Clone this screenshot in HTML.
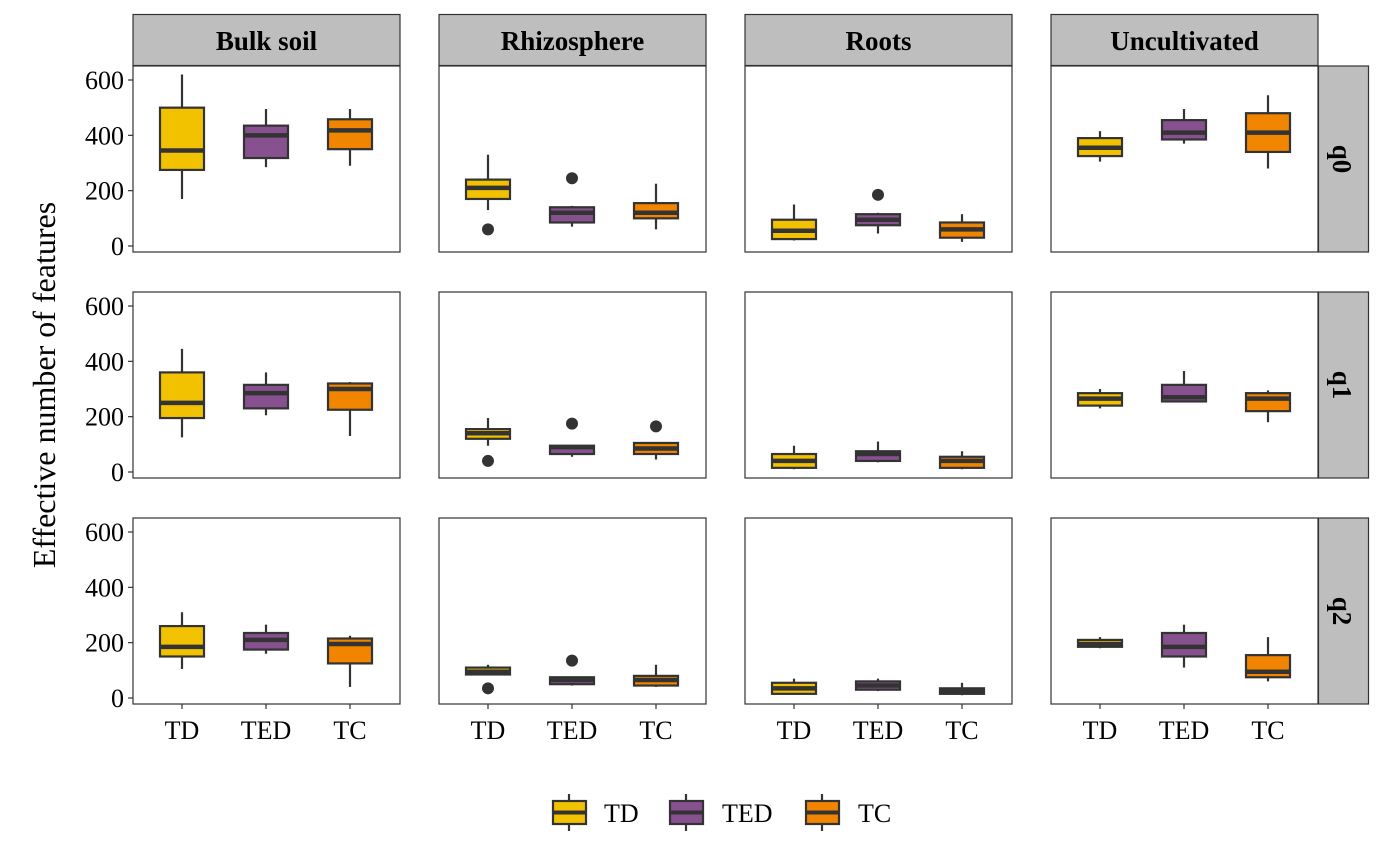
<!DOCTYPE html>
<html><head><meta charset="utf-8"><style>
html,body{margin:0;padding:0;background:#fff;}
svg{display:block;font-family:"Liberation Serif",serif;}
</style></head><body>
<svg id="s" width="1400" height="865" xmlns="http://www.w3.org/2000/svg"></svg>
<script>
const s=document.getElementById('s');let h='';
const cols=['Bulk soil','Rhizosphere','Roots','Uncultivated'];
const rows=['q0','q1','q2'];
const fills=['#F2C200','#87508F','#F28500'];
const data=[
[[[170,275,345,500,620],[285,318,400,435,495],[290,350,418,458,495]],
 [[130,170,210,240,330,60],[70,85,120,140,145,245],[60,100,120,155,225]],
 [[20,25,55,95,150],[45,75,95,115,120,185],[15,30,60,85,115]],
 [[305,325,355,390,415],[370,385,410,455,495],[280,340,410,480,545]]],
[[[125,195,250,360,445],[205,230,285,315,360],[130,225,300,320,325]],
 [[95,120,140,155,195,40],[55,65,90,95,95,175],[45,65,85,105,105,165]],
 [[10,15,40,65,95],[35,40,65,75,110],[10,15,40,55,75]],
 [[230,240,265,285,300],[255,255,270,315,365],[180,220,265,285,295]]],
[[[105,150,185,260,310],[160,175,210,235,265],[40,125,195,215,225]],
 [[85,85,95,110,120,35],[45,50,65,75,75,135],[40,45,65,80,120]],
 [[15,15,35,55,70],[25,30,45,60,70],[10,15,25,35,55]],
 [[180,185,195,210,220],[110,150,185,235,265],[60,75,95,155,220]]]];
const k=166/600;
for(let c=0;c<4;c++){
 const x0=133+c*306;
 h+=`<rect x="${x0}" y="14.5" width="267" height="51" fill="#BEBEBE" stroke="#333" stroke-width="1.2"/>`;
 h+=`<text x="${x0+133.5}" y="50" font-size="27" font-weight="bold" text-anchor="middle">${cols[c]}</text>`;
}
for(let r=0;r<3;r++){
 const y0=66+r*226, z=246+r*226;
 h+=`<rect x="1318.5" y="${y0}" width="50" height="186" fill="#BEBEBE" stroke="#333" stroke-width="1.2"/>`;
 h+=`<text transform="translate(1333,${y0+93}) rotate(90)" font-size="27" font-weight="bold" text-anchor="middle">${rows[r]}</text>`;
 for(let t=0;t<=600;t+=200){const y=z-t*k;
  h+=`<line x1="128" x2="133" y1="${y}" y2="${y}" stroke="#333" stroke-width="1.2"/>`;
  h+=`<text x="124" y="${y+9}" font-size="26" text-anchor="end">${t}</text>`;}
 for(let c=0;c<4;c++){
  const x0=133+c*306;
  h+=`<rect x="${x0}" y="${y0}" width="267" height="186" fill="#fff" stroke="#333" stroke-width="1.2"/>`;
  for(let g=0;g<3;g++){
   const d=data[r][c][g],cx=x0+49+g*84,Y=v=>z-v*k;
   h+=`<line x1="${cx}" x2="${cx}" y1="${Y(d[0])}" y2="${Y(d[4])}" stroke="#333" stroke-width="2.2"/>`;
   h+=`<rect x="${cx-22}" y="${Y(d[3])}" width="44" height="${(d[3]-d[1])*k}" fill="${fills[g]}" stroke="#333" stroke-width="2.2"/>`;
   h+=`<line x1="${cx-22}" x2="${cx+22}" y1="${Y(d[2])}" y2="${Y(d[2])}" stroke="#333" stroke-width="4.5"/>`;
   if(d[5]!==undefined)h+=`<circle cx="${cx}" cy="${Y(d[5])}" r="6" fill="#333"/>`;
   if(r==2){h+=`<line x1="${cx}" x2="${cx}" y1="704" y2="709" stroke="#333" stroke-width="1.2"/>`;
    h+=`<text x="${cx}" y="739" font-size="26" text-anchor="middle">${['TD','TED','TC'][g]}</text>`;}
  }
 }
}
h+=`<text transform="translate(55,385) rotate(-90)" font-size="32" text-anchor="middle">Effective number of features</text>`;
const lx=[553,670,806],lt=[604,722,858],ln=['TD','TED','TC'];
for(let g=0;g<3;g++){const cx=lx[g]+16;
 h+=`<line x1="${cx}" x2="${cx}" y1="794" y2="831" stroke="#333" stroke-width="2.2"/>`;
 h+=`<rect x="${lx[g]}" y="801" width="33" height="23" fill="${fills[g]}" stroke="#333" stroke-width="2.2"/>`;
 h+=`<line x1="${lx[g]}" x2="${lx[g]+33}" y1="812.5" y2="812.5" stroke="#333" stroke-width="4"/>`;
 h+=`<text x="${lt[g]}" y="822" font-size="26">${ln[g]}</text>`;}
s.innerHTML=h;
</script>
</body></html>
